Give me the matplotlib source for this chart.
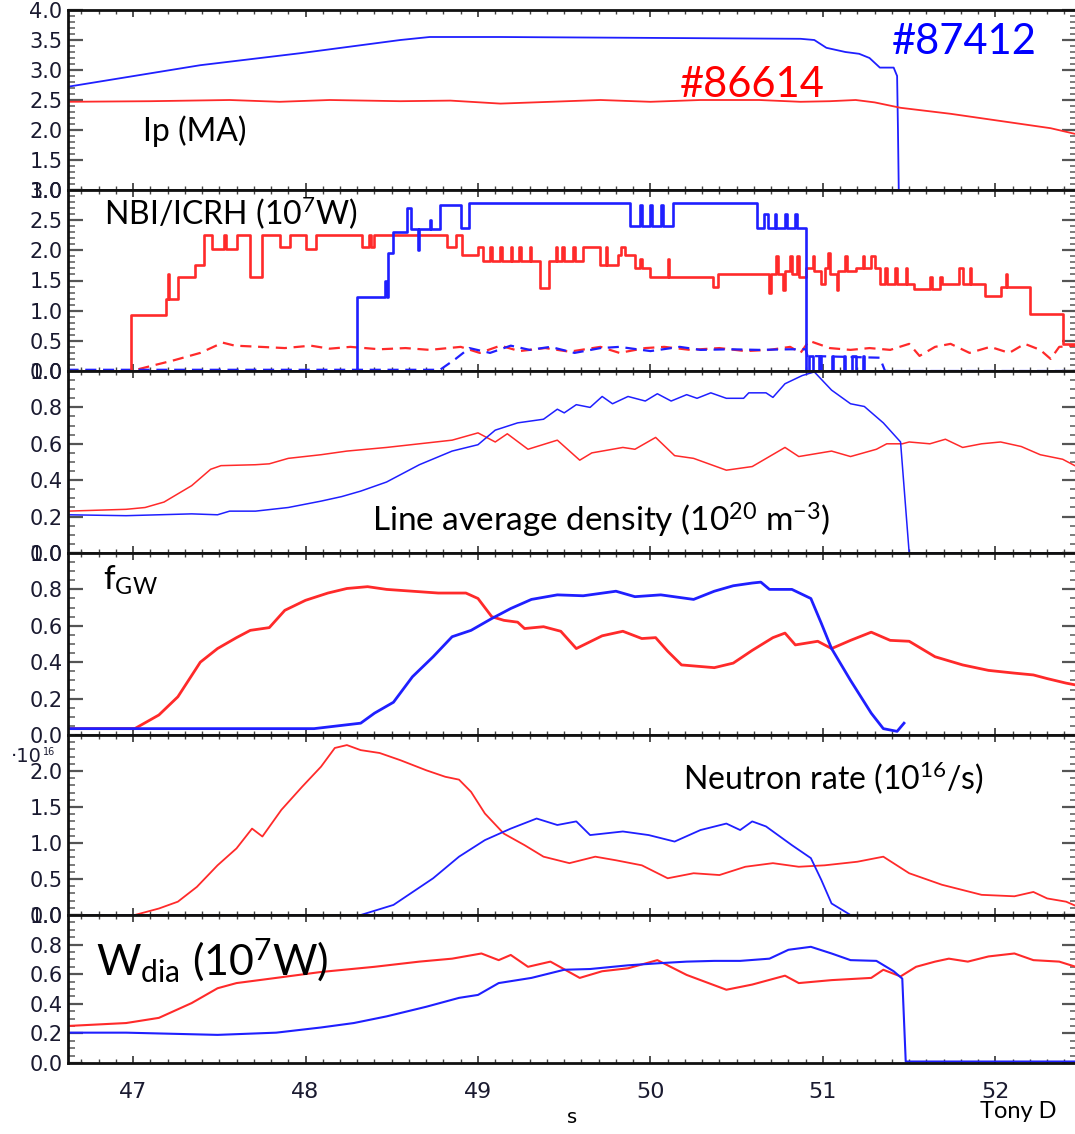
import matplotlib
matplotlib.use("Agg")
import matplotlib.pyplot as plt
from matplotlib.ticker import MultipleLocator, FormatStrFormatter

plt.rcParams['font.family'] = ['Lato', 'DejaVu Sans']
plt.rcParams['mathtext.fontset'] = 'custom'
plt.rcParams['mathtext.rm'] = 'Lato'
plt.rcParams['mathtext.it'] = 'Lato:italic'
plt.rcParams['mathtext.bf'] = 'Lato:bold'

RED = '#ff2a2a'
BLUE = '#1f1fff'
TICKFONT = 'DejaVu Sans'
W, H = 1075, 1134
X0, X1 = 46.623, 52.473

# --- plasma current (MA)
ip_blue_t = [46.62, 47.39, 47.97, 48.55, 48.72, 49.13, 49.71, 50.29, 50.87, 50.95, 51.02,
             51.13, 51.21, 51.27, 51.33, 51.41, 51.43, 51.435, 51.44]
ip_blue = [2.72, 3.08, 3.28, 3.50, 3.55, 3.55, 3.54, 3.53, 3.52, 3.50, 3.37,
           3.30, 3.27, 3.20, 3.04, 3.04, 2.90, 2.0, 0.9]
ip_red_t = [46.62, 47.10, 47.56, 47.85, 48.14, 48.55, 48.84, 49.13, 49.42, 49.71, 50.00,
            50.29, 50.63, 50.87, 51.04, 51.19, 51.30, 51.45, 51.74, 52.03, 52.32, 52.47]
ip_red = [2.47, 2.48, 2.50, 2.47, 2.50, 2.48, 2.49, 2.44, 2.47, 2.50, 2.47,
          2.50, 2.50, 2.47, 2.48, 2.50, 2.46, 2.37, 2.27, 2.15, 2.03, 1.93]

# --- NBI (solid, step) and ICRH (dashed), 1e7 W
nbi_red_t = [46.62, 46.99, 47.19, 47.20, 47.21, 47.26, 47.36, 47.41, 47.46, 47.53, 47.54,
             47.60, 47.68, 47.75, 47.85, 47.91, 48.00, 48.06, 48.33, 48.37, 48.38, 48.40,
             48.82, 48.87, 48.91, 49.00, 49.03, 49.07, 49.08, 49.13, 49.14, 49.19, 49.20,
             49.24, 49.25, 49.30, 49.31, 49.36, 49.41, 49.45, 49.46, 49.49, 49.50, 49.55,
             49.56, 49.61, 49.71, 49.74, 49.75, 49.81, 49.83, 49.85, 49.91, 49.94, 49.95,
             50.00, 50.10, 50.11, 50.36, 50.39, 50.69, 50.70, 50.73, 50.74, 50.77, 50.78,
             50.81, 50.82, 50.85, 50.86, 50.90, 50.94, 50.95, 50.99, 51.01, 51.03, 51.04,
             51.08, 51.09, 51.13, 51.14, 51.19, 51.23, 51.24, 51.28, 51.30, 51.33, 51.36,
             51.37, 51.42, 51.43, 51.48, 51.49, 51.53, 51.62, 51.63, 51.68, 51.69, 51.74,
             51.79, 51.81, 51.85, 51.86, 51.94, 52.03, 52.06, 52.07, 52.20, 52.39, 52.47]
nbi_red = [0.0, 0.93, 1.20, 1.60, 1.20, 1.55, 1.75, 2.25, 2.03, 2.25, 2.03,
           2.25, 1.55, 2.25, 2.05, 2.25, 2.02, 2.25, 2.05, 2.25, 2.05, 2.25,
           2.05, 2.25, 1.92, 2.05, 1.82, 2.05, 1.82, 2.05, 1.82, 2.05, 1.82,
           2.05, 1.82, 2.05, 1.82, 1.38, 1.82, 2.05, 1.82, 2.05, 1.82, 2.05,
           1.82, 2.05, 1.75, 2.05, 1.75, 1.92, 2.05, 1.92, 1.70, 1.85, 1.70,
           1.56, 1.86, 1.56, 1.40, 1.60, 1.30, 1.60, 1.90, 1.60, 1.35, 1.65,
           1.90, 1.60, 1.90, 1.55, 1.70, 1.90, 1.65, 1.45, 1.70, 1.95, 1.60,
           1.35, 1.65, 1.90, 1.65, 1.70, 1.90, 1.70, 1.90, 1.70, 1.45, 1.70,
           1.45, 1.70, 1.45, 1.70, 1.45, 1.36, 1.55, 1.36, 1.55, 1.45, 1.45,
           1.70, 1.45, 1.70, 1.45, 1.25, 1.40, 1.60, 1.40, 0.95, 0.45, 0.45]
nbi_blue_t = [46.62, 48.30, 48.46, 48.47, 48.48, 48.51, 48.59, 48.61, 48.65, 48.66, 48.72,
              48.73, 48.78, 48.90, 48.95, 49.88, 49.94, 49.95, 50.00, 50.01, 50.06, 50.07,
              50.13, 50.62, 50.66, 50.68, 50.72, 50.73, 50.78, 50.79, 50.84, 50.85, 50.90,
              50.92, 50.94, 50.98, 50.99, 51.05, 51.06, 51.12, 51.13, 51.17, 51.19, 51.23,
              51.24, 52.47]
nbi_blue = [0.0, 1.23, 1.50, 1.23, 1.95, 2.30, 2.70, 2.35, 2.00, 2.35, 2.50,
            2.35, 2.75, 2.37, 2.78, 2.40, 2.75, 2.40, 2.75, 2.40, 2.75, 2.40,
            2.78, 2.37, 2.60, 2.37, 2.60, 2.37, 2.60, 2.37, 2.60, 2.37, 0.0,
            0.25, 0.0, 0.25, 0.0, 0.25, 0.0, 0.25, 0.0, 0.25, 0.0, 0.25,
            0.0, 0.0]
icrh_red_t = [46.62, 46.99, 47.10, 47.24, 47.39, 47.52, 47.59, 47.74, 47.88, 48.03, 48.14,
              48.26, 48.43, 48.58, 48.72, 48.90, 49.01, 49.13, 49.24, 49.39, 49.53, 49.71,
              49.82, 49.97, 50.08, 50.23, 50.40, 50.55, 50.69, 50.81, 50.87, 50.92, 51.04,
              51.16, 51.27, 51.39, 51.50, 51.56, 51.65, 51.74, 51.85, 51.97, 52.08, 52.17,
              52.26, 52.32, 52.37, 52.47]
icrh_red = [0.0, 0.0, 0.08, 0.18, 0.30, 0.47, 0.42, 0.40, 0.38, 0.42, 0.37,
            0.40, 0.36, 0.38, 0.35, 0.40, 0.30, 0.42, 0.33, 0.38, 0.32, 0.40,
            0.30, 0.38, 0.40, 0.35, 0.38, 0.33, 0.35, 0.40, 0.30, 0.50, 0.38,
            0.35, 0.38, 0.35, 0.45, 0.25, 0.40, 0.45, 0.30, 0.40, 0.30, 0.45,
            0.35, 0.20, 0.40, 0.42]
icrh_blue_t = [46.62, 48.78, 48.87, 48.95, 49.07, 49.19, 49.30, 49.42, 49.56, 49.71, 49.82,
               50.00, 50.17, 50.29, 50.46, 50.63, 50.81, 50.90, 50.91, 51.33, 51.36, 52.47]
icrh_blue = [0.02, 0.02, 0.20, 0.38, 0.30, 0.42, 0.35, 0.40, 0.30, 0.38, 0.40,
             0.33, 0.40, 0.35, 0.36, 0.35, 0.36, 0.36, 0.25, 0.22, 0.0, 0.0]

# --- line average density (1e20 m^-3)
ne_red_t = [46.62, 46.96, 47.07, 47.18, 47.34, 47.45, 47.51, 47.71, 47.79, 47.90, 48.09,
            48.24, 48.47, 48.66, 48.85, 49.00, 49.10, 49.17, 49.29, 49.46, 49.59, 49.66,
            49.84, 49.91, 50.03, 50.14, 50.25, 50.44, 50.59, 50.78, 50.86, 51.05, 51.16,
            51.31, 51.37, 51.46, 51.50, 51.62, 51.71, 51.81, 51.92, 52.03, 52.15, 52.26,
            52.39, 52.52]
ne_red = [0.23, 0.24, 0.25, 0.28, 0.37, 0.46, 0.48, 0.485, 0.49, 0.52, 0.54,
          0.56, 0.58, 0.60, 0.62, 0.66, 0.61, 0.655, 0.57, 0.62, 0.51, 0.55,
          0.58, 0.57, 0.635, 0.535, 0.52, 0.455, 0.475, 0.58, 0.53, 0.56, 0.53,
          0.57, 0.60, 0.60, 0.61, 0.60, 0.625, 0.58, 0.60, 0.61, 0.585, 0.54,
          0.515, 0.45]
ne_blue_t = [46.62, 46.96, 47.34, 47.49, 47.56, 47.71, 47.90, 48.09, 48.21, 48.32, 48.47,
             48.66, 48.85, 49.00, 49.10, 49.23, 49.38, 49.46, 49.50, 49.57, 49.65, 49.72,
             49.78, 49.87, 49.97, 50.04, 50.12, 50.21, 50.27, 50.35, 50.44, 50.54, 50.57,
             50.67, 50.71, 50.78, 50.88, 50.95, 51.05, 51.16, 51.24, 51.35, 51.45, 51.50,
             52.47]
ne_blue = [0.21, 0.205, 0.215, 0.21, 0.23, 0.23, 0.25, 0.285, 0.31, 0.34, 0.39,
           0.485, 0.56, 0.595, 0.675, 0.715, 0.735, 0.79, 0.77, 0.815, 0.80, 0.86,
           0.82, 0.86, 0.835, 0.875, 0.835, 0.87, 0.85, 0.88, 0.85, 0.85, 0.88,
           0.88, 0.855, 0.93, 0.975, 0.995, 0.895, 0.82, 0.805, 0.715, 0.61, 0.0,
           0.0]

# --- Greenwald fraction
fgw_red_t = [46.62, 47.01, 47.15, 47.26, 47.39, 47.49, 47.60, 47.68, 47.79, 47.88, 48.00,
             48.13, 48.24, 48.36, 48.47, 48.62, 48.77, 48.93, 49.00, 49.08, 49.15, 49.23,
             49.27, 49.38, 49.48, 49.57, 49.72, 49.84, 49.95, 50.03, 50.10, 50.18, 50.37,
             50.48, 50.59, 50.71, 50.78, 50.84, 50.97, 51.05, 51.16, 51.28, 51.39, 51.50,
             51.65, 51.81, 51.96, 52.11, 52.22, 52.30, 52.41, 52.52]
fgw_red = [0.035, 0.035, 0.11, 0.21, 0.40, 0.475, 0.535, 0.575, 0.59, 0.685, 0.74,
           0.78, 0.805, 0.815, 0.80, 0.79, 0.78, 0.78, 0.75, 0.65, 0.63, 0.62,
           0.585, 0.595, 0.57, 0.475, 0.545, 0.57, 0.53, 0.535, 0.46, 0.385, 0.37,
           0.395, 0.465, 0.535, 0.56, 0.495, 0.515, 0.475, 0.52, 0.565, 0.52, 0.515,
           0.43, 0.385, 0.355, 0.34, 0.33, 0.31, 0.285, 0.265]
fgw_blue_t = [46.62, 48.05, 48.32, 48.40, 48.51, 48.62, 48.74, 48.85, 48.96, 49.08, 49.19,
              49.31, 49.46, 49.61, 49.80, 49.91, 50.06, 50.25, 50.37, 50.48, 50.59, 50.64,
              50.69, 50.82, 50.93, 50.99, 51.05, 51.16, 51.28, 51.35, 51.43, 51.47]
fgw_blue = [0.035, 0.035, 0.065, 0.12, 0.18, 0.32, 0.43, 0.54, 0.575, 0.64, 0.695,
            0.745, 0.77, 0.765, 0.79, 0.76, 0.77, 0.745, 0.79, 0.82, 0.835, 0.84,
            0.80, 0.80, 0.75, 0.615, 0.475, 0.30, 0.12, 0.035, 0.02, 0.065]

# --- neutron rate (1e16 /s)
nr_red_t = [46.62, 47.01, 47.15, 47.26, 47.37, 47.49, 47.60, 47.69, 47.75, 47.86, 47.98,
            48.09, 48.17, 48.24, 48.32, 48.43, 48.55, 48.70, 48.81, 48.89, 48.96, 49.04,
            49.15, 49.27, 49.38, 49.53, 49.68, 49.80, 49.95, 50.10, 50.25, 50.40, 50.55,
            50.71, 50.86, 51.01, 51.20, 51.35, 51.50, 51.69, 51.92, 52.11, 52.22, 52.30,
            52.41, 52.52]
nr_red = [0.0, 0.0, 0.09, 0.185, 0.39, 0.69, 0.925, 1.20, 1.09, 1.46, 1.78,
          2.06, 2.32, 2.36, 2.29, 2.25, 2.15, 2.01, 1.92, 1.88, 1.71, 1.41,
          1.13, 0.97, 0.81, 0.72, 0.81, 0.76, 0.69, 0.51, 0.58, 0.555, 0.67,
          0.72, 0.67, 0.69, 0.74, 0.81, 0.58, 0.42, 0.28, 0.26, 0.32, 0.23,
          0.185, 0.07]
nr_blue_t = [46.62, 48.32, 48.51, 48.74, 48.89, 49.04, 49.19, 49.34, 49.46, 49.57, 49.65,
             49.84, 49.99, 50.14, 50.29, 50.44, 50.52, 50.59, 50.67, 50.82, 50.93, 50.99,
             51.05, 51.16, 51.45]
nr_blue = [0.0, 0.0, 0.14, 0.51, 0.81, 1.04, 1.20, 1.34, 1.25, 1.30, 1.11,
           1.16, 1.11, 1.02, 1.18, 1.27, 1.18, 1.30, 1.23, 0.97, 0.79, 0.49,
           0.16, 0.0, 0.0]

# --- diamagnetic energy
wd_red_t = [46.62, 46.96, 47.15, 47.34, 47.49, 47.60, 47.83, 48.09, 48.40, 48.66, 48.85,
            49.02, 49.12, 49.19, 49.29, 49.42, 49.59, 49.72, 49.87, 50.04, 50.21, 50.44,
            50.59, 50.78, 50.86, 51.05, 51.28, 51.35, 51.45, 51.54, 51.65, 51.73, 51.84,
            51.96, 52.11, 52.22, 52.37, 52.52]
wd_red = [0.25, 0.27, 0.305, 0.405, 0.505, 0.54, 0.575, 0.615, 0.65, 0.685, 0.705,
          0.74, 0.695, 0.73, 0.65, 0.685, 0.575, 0.62, 0.64, 0.695, 0.595, 0.495,
          0.53, 0.59, 0.54, 0.56, 0.575, 0.63, 0.585, 0.65, 0.685, 0.705, 0.685,
          0.72, 0.74, 0.695, 0.685, 0.63]
wd_blue_t = [46.62, 46.96, 47.49, 47.83, 48.09, 48.28, 48.47, 48.70, 48.89, 49.00, 49.12,
             49.31, 49.50, 49.65, 49.87, 50.06, 50.21, 50.37, 50.52, 50.69, 50.80, 50.93,
             51.05, 51.16, 51.31, 51.41, 51.46, 51.48, 52.47]
wd_blue = [0.205, 0.205, 0.19, 0.205, 0.24, 0.27, 0.315, 0.38, 0.44, 0.46, 0.54,
           0.575, 0.63, 0.635, 0.66, 0.675, 0.685, 0.69, 0.69, 0.705, 0.765, 0.785,
           0.74, 0.695, 0.69, 0.62, 0.57, 0.01, 0.01]

fig = plt.figure(figsize=(W / 100, H / 100), dpi=100)


def panel(top, bot, ylo, yhi, minor, yticks):
    ax = fig.add_axes([68 / W, 1 - bot / H, (1077 - 68) / W, (bot - top) / H])
    ax.set_xlim(X0, X1)
    ax.set_ylim(ylo, yhi)
    ax.set_yticks(yticks)
    ax.yaxis.set_minor_locator(MultipleLocator(minor))
    ax.yaxis.set_major_formatter(FormatStrFormatter('%.1f'))
    ax.xaxis.set_major_locator(MultipleLocator(1))
    ax.xaxis.set_minor_locator(MultipleLocator(0.1))
    ax.tick_params(axis='y', which='major', direction='in', length=11, width=1.6,
                   color='#555555', right=True, labelsize=15, pad=4,
                   labelcolor='#1a1a30', labelfontfamily=TICKFONT)
    ax.tick_params(axis='y', which='minor', direction='in', length=5, width=1.2,
                   color='#666666', right=True)
    ax.tick_params(axis='x', which='major', direction='in', length=5, width=1.2,
                   color='#333333', top=True, labelbottom=False, labelsize=16,
                   labelcolor='#1a1a30', labelfontfamily=TICKFONT)
    ax.tick_params(axis='x', which='minor', direction='in', length=3, width=1.0,
                   color='#444444', top=True)
    for s in ax.spines.values():
        s.set_linewidth(2)
        s.set_color('#111111')
    return ax


ax1 = panel(10, 190, 1.0, 4.0, 0.1, [1.0, 1.5, 2.0, 2.5, 3.0, 3.5, 4.0])
ax1.plot(ip_blue_t, ip_blue, color=BLUE, lw=1.3)
ax1.plot(ip_red_t, ip_red, color=RED, lw=1.3)

ax2 = panel(190, 371, 0.0, 3.0, 0.1, [0.0, 0.5, 1.0, 1.5, 2.0, 2.5, 3.0])
ax2.plot(icrh_red_t, icrh_red, color=RED, lw=1.6, dashes=[5, 3])
ax2.plot(icrh_blue_t, icrh_blue, color=BLUE, lw=1.6, dashes=[5, 3])
ax2.plot(nbi_red_t, nbi_red, color=RED, lw=1.9, drawstyle='steps-post')
ax2.plot(nbi_blue_t, nbi_blue, color=BLUE, lw=1.9, drawstyle='steps-post')

ax3 = panel(371, 553, 0.0, 1.0, 0.05, [0.0, 0.2, 0.4, 0.6, 0.8, 1.0])
ax3.plot(ne_red_t, ne_red, color=RED, lw=1.1)
ax3.plot(ne_blue_t, ne_blue, color=BLUE, lw=1.1)

ax4 = panel(553, 735, 0.0, 1.0, 0.05, [0.0, 0.2, 0.4, 0.6, 0.8, 1.0])
ax4.plot(fgw_red_t, fgw_red, color=RED, lw=2.0)
ax4.plot(fgw_blue_t, fgw_blue, color=BLUE, lw=2.0)

ax5 = panel(735, 915, 0.0, 2.5, 0.1, [0.0, 0.5, 1.0, 1.5, 2.0])
ax5.plot(nr_red_t, nr_red, color=RED, lw=1.3)
ax5.plot(nr_blue_t, nr_blue, color=BLUE, lw=1.3)

ax6 = panel(915, 1063, 0.0, 1.0, 0.05, [0.0, 0.2, 0.4, 0.6, 0.8, 1.0])
ax6.plot(wd_red_t, wd_red, color=RED, lw=1.5)
ax6.plot(wd_blue_t, wd_blue, color=BLUE, lw=1.5)
ax6.tick_params(axis='x', labelbottom=True, pad=14)
ax6.set_xlabel('s', family=TICKFONT, fontsize=14, labelpad=4)


def ftext(x, y, s, **kw):
    fig.text(x / W, 1 - y / H, s, va='center', ha='left', **kw)


ftext(143, 131, 'Ip (MA)', fontsize=23)
ftext(892, 42, '#87412', fontsize=30, color='#0000ff')
ftext(680, 85, '#86614', fontsize=30, color='#ff0000')
ftext(104, 213, r'NBI/ICRH (10$^{7}$W)', fontsize=23)
ftext(372, 520, r'Line average density (10$^{20}$ m$^{-3}$)', fontsize=24)
ftext(103, 580, r'$\mathrm{f_{GW}}$', fontsize=24)
ftext(683, 778, r'Neutron rate (10$^{16}$/s)', fontsize=23)
ftext(96, 960, r'$\mathrm{W_{dia}}$ (10$^{7}$W)', fontsize=31)
ftext(980, 1112, 'Tony D', fontsize=17)
fig.text(42 / W, 1 - 757 / H, '\u00b710', family=TICKFONT, fontsize=14,
         ha='right', va='center', color='#1a1a30')
fig.text(43 / W, 1 - 752 / H, '16', family=TICKFONT, fontsize=7,
         ha='left', va='center', color='#1a1a30')

fig.savefig('out.png', dpi=100)
